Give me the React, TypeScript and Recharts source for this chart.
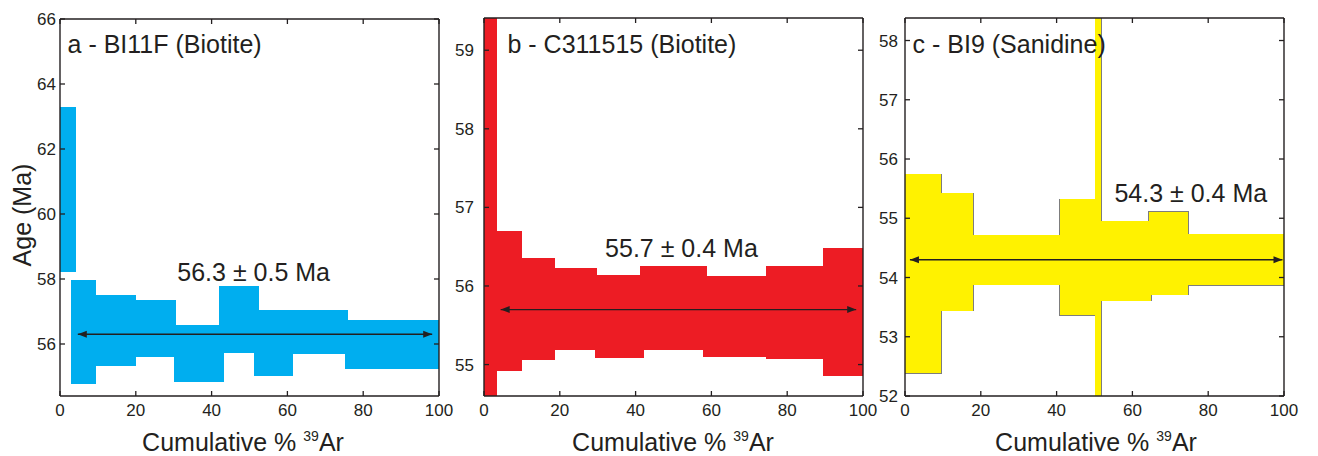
import React from 'react';
import { ComposedChart, XAxis, YAxis, ReferenceArea, ReferenceDot, Line } from 'recharts';

const FONT = '"Liberation Sans", Arial, Helvetica, sans-serif';
const INK = '#231f20';

// [cumulative % 39Ar start, end, age low, age high] (Ma)
type Step = [number, number, number, number];

const BI11F_STEPS: Step[] = [
  [0, 4.1, 58.21, 63.29],
  [2.9, 9.6, 54.77, 57.96],
  [9.6, 20.0, 55.33, 57.51],
  [20.0, 30.6, 55.59, 57.35],
  [30.0, 43.2, 54.82, 56.58],
  [41.9, 52.4, 55.73, 57.8],
  [51.3, 61.5, 55.02, 57.04],
  [60.3, 75.9, 55.68, 57.06],
  [75.1, 100, 55.23, 56.73],
];

const C311515_STEPS: Step[] = [
  [0, 3.3, 54.0, 60.0],
  [3.3, 9.9, 54.92, 56.7],
  [9.9, 18.8, 55.06, 56.36],
  [18.8, 29.9, 55.18, 56.23],
  [29.3, 42.1, 55.08, 56.14],
  [41.2, 58.8, 55.18, 56.26],
  [57.9, 74.4, 55.1, 56.13],
  [74.4, 89.5, 55.07, 56.26],
  [89.5, 100, 54.85, 56.48],
];

const BI9_STEPS: Step[] = [
  [0, 9.5, 52.38, 55.74],
  [9.5, 18.0, 53.44, 55.42],
  [18.0, 40.8, 53.88, 54.71],
  [40.8, 50.2, 53.37, 55.32],
  [50.2, 51.75, 50.0, 60.0],
  [51.75, 64.9, 53.61, 54.95],
  [64.3, 74.8, 53.71, 55.11],
  [74.8, 100, 53.87, 54.73],
];

const X_TICKS = [0, 20, 40, 60, 80, 100];
const BI11F_TICKS = [56, 58, 60, 62, 64, 66];
const C311515_TICKS = [55, 56, 57, 58, 59];
const BI9_TICKS = [52, 53, 54, 55, 56, 57, 58];

const SAMPLE_NAMES = ['a - BI11F (Biotite)', 'b - C311515 (Biotite)', 'c - BI9 (Sanidine)'];
const PLATEAU_AGES = [56.3, 55.7, 54.3];
const PLATEAU_ERRORS = [0.5, 0.4, 0.4];
const PLATEAU_FROM = [4.7, 4.4, 1.3];
const PLATEAU_TO = [98.2, 98.2, 99.6];

const AXIS_LINE = { stroke: INK, strokeWidth: 1.4 };

const bottomTick = (props: any) => {
  const { x, y, payload } = props;
  return (
    <g>
      <line x1={x} y1={y} x2={x} y2={y - 5} stroke={INK} strokeWidth={1.3} />
      <text x={x} y={y + 20} textAnchor="middle" fontSize={17} fill={INK} fontFamily={FONT}>
        {payload.value}
      </text>
    </g>
  );
};

const topTick = (props: any) => (
  <line x1={props.x} y1={props.y} x2={props.x} y2={props.y + 5} stroke={INK} strokeWidth={1.3} />
);

const leftTick = (gap: number) => (props: any) => {
  const { x, y, payload } = props;
  return (
    <g>
      <line x1={x} y1={y} x2={x + 5} y2={y} stroke={INK} strokeWidth={1.3} />
      <text x={x - gap} y={y + 6} textAnchor="end" fontSize={17} fill={INK} fontFamily={FONT}>
        {payload.value}
      </text>
    </g>
  );
};

const rightTick = (props: any) => (
  <line x1={props.x} y1={props.y} x2={props.x - 5} y2={props.y} stroke={INK} strokeWidth={1.3} />
);

// arrowheads at both ends of the plateau line
const arrowDot = (props: any) => {
  const { cx, cy, index } = props;
  const d = index === 0 ? 1 : -1;
  return (
    <polygon
      key={`arrow${index}`}
      points={`${cx},${cy} ${cx + d * 9},${cy - 3.5} ${cx + d * 9},${cy + 3.5}`}
      fill={INK}
    />
  );
};

const textShape = (label: string, anchor: 'start' | 'middle') => (props: any) => (
  <text x={props.cx} y={props.cy + 9} textAnchor={anchor} fontSize={25} fill={INK} fontFamily={FONT}>
    {label}
  </text>
);

type PanelConfig = {
  steps: Step[];
  yTicks: number[];
  yDomain: [number, number];
  index: number;
  color: string;
  outline: string;
  left: number;
  width: number;
  axisWidth: number;
  right: number;
  top: number;
  tickGap: number;
  titleAt: [number, number];
  ageAt: [number, number];
};

const PANELS: PanelConfig[] = [
  {
    steps: BI11F_STEPS, yTicks: BI11F_TICKS, yDomain: [54.4, 66], index: 0,
    color: '#00aeef', outline: 'none',
    left: 0, width: 470, axisWidth: 60, right: 30, top: 18, tickGap: 4,
    titleAt: [2.0, 65.23], ageAt: [51.1, 58.21],
  },
  {
    steps: C311515_STEPS, yTicks: C311515_TICKS, yDomain: [54.6, 59.41], index: 1,
    color: '#ed1c24', outline: 'none',
    left: 420, width: 470, axisWidth: 64, right: 26, top: 17, tickGap: 10,
    titleAt: [6.2, 59.08], ageAt: [52.1, 56.48],
  },
  {
    steps: BI9_STEPS, yTicks: BI9_TICKS, yDomain: [52, 58.38], index: 2,
    color: '#fff200', outline: '#7d7d7d',
    left: 850, width: 468, axisWidth: 55, right: 33, top: 17, tickGap: 7,
    titleAt: [2.0, 57.94], ageAt: [75.4, 55.43],
  },
];

function Panel({ cfg }: { cfg: PanelConfig }) {
  const i = cfg.index;
  const plateau = [
    { x: PLATEAU_FROM[i], age: PLATEAU_AGES[i] },
    { x: PLATEAU_TO[i], age: PLATEAU_AGES[i] },
  ];
  return (
    <div style={{ position: 'absolute', left: cfg.left, top: 0 }}>
      <ComposedChart
        width={cfg.width}
        height={456}
        data={plateau}
        margin={{ top: cfg.top, right: cfg.right, bottom: 0, left: 0 }}
      >
        <XAxis
          dataKey="x" type="number" domain={[0, 100]} ticks={X_TICKS} interval={0} allowDataOverflow
          height={60} tickSize={0} tickMargin={0} tickLine={false} axisLine={AXIS_LINE}
          tick={bottomTick}
        />
        <XAxis
          xAxisId="top" dataKey="x" orientation="top" type="number" domain={[0, 100]} ticks={X_TICKS}
          interval={0} allowDataOverflow height={1} tickSize={0} tickMargin={0}
          tickLine={false} axisLine={AXIS_LINE} tick={topTick}
        />
        <YAxis
          type="number" domain={cfg.yDomain} ticks={cfg.yTicks} interval={0} allowDataOverflow
          width={cfg.axisWidth} tickSize={0} tickMargin={0} tickLine={false} axisLine={AXIS_LINE}
          tick={leftTick(cfg.tickGap)}
        />
        <YAxis
          yAxisId="right" orientation="right" type="number" domain={cfg.yDomain} ticks={cfg.yTicks}
          interval={0} allowDataOverflow width={1} tickSize={0} tickMargin={0} tickLine={false}
          axisLine={AXIS_LINE} tick={rightTick}
        />
        {cfg.outline !== 'none' &&
          cfg.steps.map((s, k) => (
            <ReferenceArea
              key={`o${k}`} x1={s[0]} x2={s[1]} y1={s[2]} y2={s[3]} ifOverflow="hidden"
              fill={cfg.color} fillOpacity={1} stroke={cfg.outline} strokeWidth={1.4}
              shapeRendering="crispEdges"
            />
          ))}
        {cfg.steps.map((s, k) => (
          <ReferenceArea
            key={`f${k}`} x1={s[0]} x2={s[1]} y1={s[2]} y2={s[3]} ifOverflow="hidden"
            fill={cfg.color} fillOpacity={1} stroke="none" shapeRendering="crispEdges"
          />
        ))}
        <Line
          dataKey="age" stroke={INK} strokeWidth={1.3} dot={arrowDot} activeDot={false}
          isAnimationActive={false}
        />
        <ReferenceDot
          x={cfg.titleAt[0]} y={cfg.titleAt[1]} r={0}
          shape={textShape(SAMPLE_NAMES[i], 'start')}
        />
        <ReferenceDot
          x={cfg.ageAt[0]} y={cfg.ageAt[1]} r={0}
          shape={textShape(`${PLATEAU_AGES[i]} ± ${PLATEAU_ERRORS[i]} Ma`, 'middle')}
        />
      </ComposedChart>
    </div>
  );
}

const X_TITLE_CENTERS = [243, 673, 1096];

export default function App() {
  return (
    <div
      style={{
        position: 'absolute', left: 0, top: 0, width: 1318, height: 456,
        background: '#fff', fontFamily: FONT, color: INK, overflow: 'hidden',
      }}
    >
      {PANELS.map((p) => (
        <Panel key={p.index} cfg={p} />
      ))}
      {X_TITLE_CENTERS.map((cx, k) => (
        <div
          key={k}
          style={{
            position: 'absolute', left: cx - 200, top: 430, width: 400, textAlign: 'center',
            fontSize: 25, lineHeight: '24px', whiteSpace: 'nowrap',
          }}
        >
          Cumulative %{' '}
          <span style={{ fontSize: 14, position: 'relative', top: -10 }}>39</span>Ar
        </div>
      ))}
      <div
        style={{
          position: 'absolute', left: 22 - 100, top: 215 - 12, width: 200, height: 24,
          textAlign: 'center', fontSize: 25, lineHeight: '24px', transform: 'rotate(-90deg)',
          whiteSpace: 'nowrap',
        }}
      >
        Age (Ma)
      </div>
    </div>
  );
}
